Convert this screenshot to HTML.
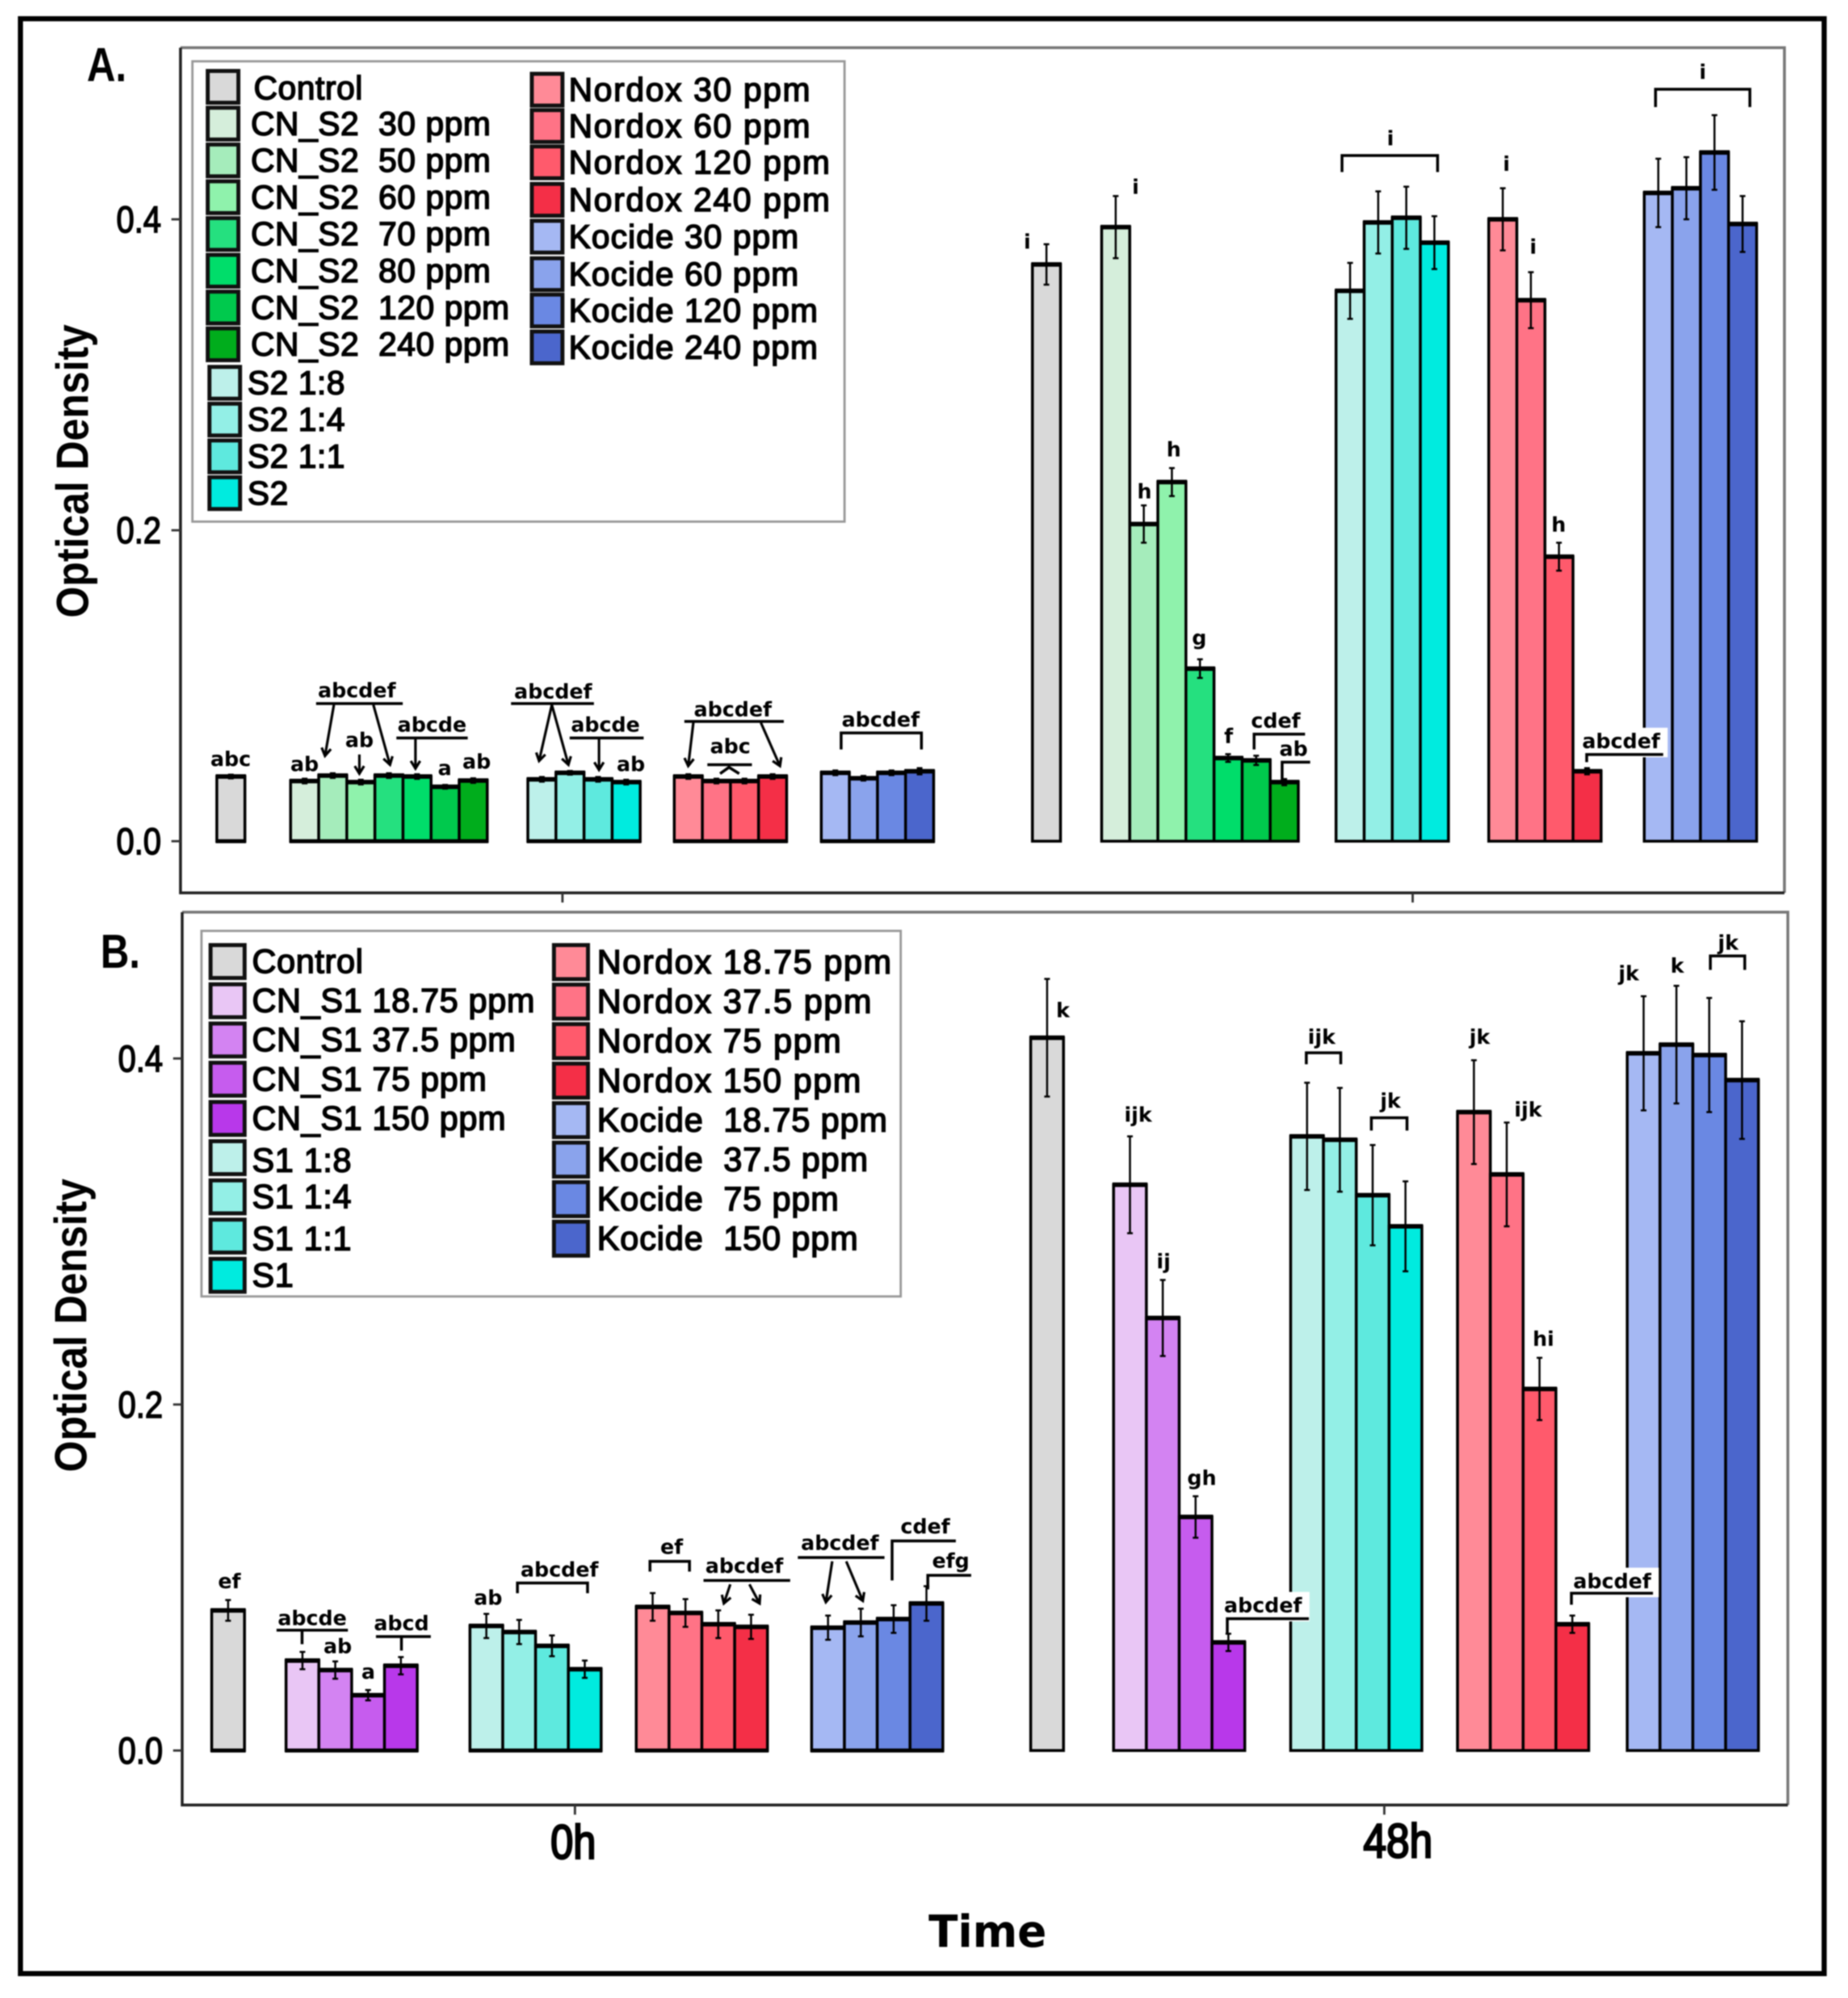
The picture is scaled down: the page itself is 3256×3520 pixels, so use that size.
<!DOCTYPE html>
<html lang="en">
<head>
<meta charset="utf-8">
<title>Optical Density over Time</title>
<style>
html,body{margin:0;padding:0;background:#fff;width:3256px;height:3520px;overflow:hidden}
svg{display:block;filter:blur(1px)}
text{font-family:"Liberation Sans",sans-serif;fill:#000;white-space:pre}
.leg{font-size:58px;stroke:#000;stroke-width:2.2px}
.legb{font-size:59px;stroke:#000;stroke-width:2.2px}
.note{font-family:"DejaVu Sans",sans-serif;font-weight:bold;font-size:36px;text-anchor:middle}
.tick{font-size:66px;stroke:#000;stroke-width:2.2px}
.ax{font-weight:bold}
</style>
</head>
<body>
<svg id="figure" xmlns="http://www.w3.org/2000/svg" width="3256" height="3520" viewBox="0 0 3256 3520">
  <rect x="0" y="0" width="3256" height="3520" fill="#ffffff"/>
  <rect x="36" y="33" width="3178" height="3444" fill="none" stroke="#000" stroke-width="9"/>

  <g>
    <path d="M318 84H3144V1573" fill="none" stroke="#777" stroke-width="5"/>
    <path d="M318 84V1573H3144" fill="none" stroke="#222" stroke-width="5"/>
  </g>
  <g>
    <path d="M321 1607H3150V3180" fill="none" stroke="#777" stroke-width="5"/>
    <path d="M321 1607V3180H3150" fill="none" stroke="#222" stroke-width="5"/>
  </g>

  <text x="153" y="143" font-size="84" font-weight="bold" textLength="70" lengthAdjust="spacingAndGlyphs">A.</text>
  <text x="177" y="1705" font-size="84" font-weight="bold" textLength="70" lengthAdjust="spacingAndGlyphs">B.</text>

  <text class="ax" transform="translate(155 830) rotate(-90)" text-anchor="middle" font-size="80" textLength="517" lengthAdjust="spacingAndGlyphs">Optical Density</text>
  <text class="ax" transform="translate(152 2335) rotate(-90)" text-anchor="middle" font-size="80" textLength="517" lengthAdjust="spacingAndGlyphs">Optical Density</text>

  <text x="1636" y="3430" font-size="78" font-weight="bold" style="font-family:'DejaVu Sans',sans-serif" textLength="208" lengthAdjust="spacingAndGlyphs">Time</text>

  <g id="legends"></g>
  <g id="plots"></g>
  <g id="notes"></g>
</svg>

<script>
// ---------- chart data ----------
const timeLabels = ['0h', '48h'];
const yTickValues = [0, 0.2, 0.4];
const yTickLabels = ['0.0', '0.2', '0.4'];

const groupSizes = [1, 4, 4, 4, 4];
const groupSizesA = [1, 7, 4, 4, 4];

const categoriesA = ['Control', 'CN_S2  30 ppm', 'CN_S2  50 ppm', 'CN_S2  60 ppm', 'CN_S2  70 ppm', 'CN_S2  80 ppm', 'CN_S2  120 ppm', 'CN_S2  240 ppm', 'S2 1:8', 'S2 1:4', 'S2 1:1', 'S2', 'Nordox 30 ppm', 'Nordox 60 ppm', 'Nordox 120 ppm', 'Nordox 240 ppm', 'Kocide 30 ppm', 'Kocide 60 ppm', 'Kocide 120 ppm', 'Kocide 240 ppm'];
const categoriesB = ['Control', 'CN_S1 18.75 ppm', 'CN_S1 37.5 ppm', 'CN_S1 75 ppm', 'CN_S1 150 ppm', 'S1 1:8', 'S1 1:4', 'S1 1:1', 'S1', 'Nordox 18.75 ppm', 'Nordox 37.5 ppm', 'Nordox 75 ppm', 'Nordox 150 ppm', 'Kocide  18.75 ppm', 'Kocide  37.5 ppm', 'Kocide  75 ppm', 'Kocide  150 ppm'];

const valuesA0h = [0.0416, 0.0387, 0.0422, 0.038, 0.0422, 0.0416, 0.035, 0.039, 0.0398, 0.044, 0.0398, 0.038, 0.0416, 0.0387, 0.0387, 0.0416, 0.044, 0.0405, 0.044, 0.045];
const errorsA0h = [0.0012, 0.0015, 0.0015, 0.0015, 0.0015, 0.0015, 0.0012, 0.0015, 0.0015, 0.0012, 0.0015, 0.0015, 0.0015, 0.0015, 0.0015, 0.0015, 0.0015, 0.0015, 0.0015, 0.002];
const valuesA48h = [0.371, 0.395, 0.204, 0.231, 0.111, 0.0535, 0.052, 0.038, 0.354, 0.398, 0.401, 0.385, 0.4, 0.348, 0.183, 0.045, 0.417, 0.42, 0.443, 0.397];
const errorsA48h = [0.013, 0.02, 0.012, 0.009, 0.006, 0.0025, 0.003, 0.002, 0.018, 0.02, 0.02, 0.017, 0.02, 0.018, 0.009, 0.002, 0.022, 0.02, 0.024, 0.018];

const valuesB0h = [0.081, 0.052, 0.0465, 0.032, 0.049, 0.072, 0.0685, 0.0605, 0.047, 0.083, 0.0795, 0.073, 0.0715, 0.071, 0.074, 0.076, 0.085];
const errorsB0h = [0.006, 0.005, 0.005, 0.003, 0.005, 0.007, 0.007, 0.006, 0.005, 0.008, 0.008, 0.008, 0.007, 0.007, 0.008, 0.008, 0.01];
const valuesB48h = [0.412, 0.327, 0.25, 0.135, 0.0625, 0.355, 0.353, 0.321, 0.303, 0.369, 0.333, 0.209, 0.073, 0.403, 0.408, 0.402, 0.3875];
const errorsB48h = [0.034, 0.028, 0.022, 0.012, 0.005, 0.031, 0.03, 0.029, 0.026, 0.03, 0.03, 0.018, 0.005, 0.033, 0.034, 0.033, 0.034];

const coloursA = ['#d9d9d9', '#d5eedb', '#a5ecbb', '#8ff2ac', '#25e07f', '#00dd6a', '#00c94d', '#00ad1c', '#bdf0ea', '#93efe6', '#5ee9de', '#00ebdf', '#ff8a97', '#ff7386', '#ff5a6c', '#f42f47', '#a5b8f3', '#8aa3ec', '#6a88e3', '#4b66cc'];
const coloursB = ['#d9d9d9', '#e9c6f5', '#d383f2', '#c65cee', '#b838ea', '#bdf0ea', '#93efe6', '#5ee9de', '#00ebdf', '#ff8a97', '#ff7386', '#ff5a6c', '#f42f47', '#a5b8f3', '#8aa3ec', '#6a88e3', '#4b66cc'];

// ---------- helpers ----------
const NS = 'http://www.w3.org/2000/svg';
const SCALE = 2.2455;
function mk(tag, parent, attrs) {
  const e = document.createElementNS(NS, tag);
  for (const k in attrs) e.setAttribute(k, attrs[k]);
  parent.appendChild(e);
  return e;
}

function yScale(panel, v) { return panel.y0 - v * panel.unit; }
function xScale(panel, time, group, i) { return panel.starts[time][group] + i * panel.bw; }

function panelA() {
  return { key: 'a', y0: 1482, unit: 2739, bw: 49.5, sizes: groupSizesA, colours: coloursA, names: categoriesA,
    values: [valuesA0h, valuesA48h], errors: [errorsA0h, errorsA48h],
    axisX: 318, axisBottom: 1573, timeTicks: [991, 2489], labelled: false,
    starts: [[382, 512, 930, 1188, 1447], [1819, 1941, 2354, 2623, 2897]] };
}
function panelB() {
  return { key: 'b', y0: 3084, unit: 3048, bw: 57.8, sizes: groupSizes, colours: coloursB, names: categoriesB,
    values: [valuesB0h, valuesB48h], errors: [errorsB0h, errorsB48h],
    axisX: 321, axisBottom: 3180, timeTicks: [1013, 2439], labelled: true,
    starts: [[373, 504, 828, 1121, 1430], [1816, 1962, 2274, 2568, 2867]] };
}

function drawPanel(p) {
  const root = document.getElementById('plots');
  const g = mk('g', root, {});
  
  

  yTickValues.forEach((v, i) => {
    const y = yScale(p, v);
    const t = mk('line', g, { x1: p.axisX - 16, x2: p.axisX, y1: y, y2: y, stroke: '#333', 'stroke-width': 4 });
    
    
    const l = mk('text', g, { x: p.axisX - 34, y: y + 23, class: 'tick', 'text-anchor': 'end', textLength: 79, lengthAdjust: 'spacingAndGlyphs' });
    l.textContent = yTickLabels[i];
    
    
  });

  timeLabels.forEach((name, t) => {
    const tx = p.timeTicks[t];
    const tk = mk('line', g, { x1: tx, x2: tx, y1: p.axisBottom, y2: p.axisBottom + 17, stroke: '#333', 'stroke-width': 4 });
    
    
    if (p.labelled) {
      const lb = mk('text', g, { x: t === 0 ? 970 : 2402, y: t === 0 ? 3274 : 3272, 'font-size': 84, textLength: t === 0 ? 80 : 122, lengthAdjust: 'spacingAndGlyphs', stroke: '#000', 'stroke-width': 3.5 });
      lb.textContent = name;
      
      
    }

    let idx = 0;
    p.sizes.forEach((size, gi) => {
      for (let i = 0; i < size; i++, idx++) {
        const v = p.values[t][idx];
        const x = xScale(p, t, gi, i);
        const yT = yScale(p, v);
        const yB = yScale(p, 0);
        const bar = mk('g', g, {});
        
        
        mk('rect', bar, { x: x, y: yT, width: p.bw, height: yB - yT, fill: p.colours[idx], stroke: '#000', 'stroke-width': 5 });
        mk('line', bar, { x1: x - 2, x2: x + p.bw + 2, y1: yT, y2: yT, stroke: '#000', 'stroke-width': 8 });
        mk('line', bar, { x1: x - 2, x2: x + p.bw + 2, y1: yB, y2: yB, stroke: '#000', 'stroke-width': t === 0 ? 7 : 5 });
      }
    });

    idx = 0;
    p.sizes.forEach((size, gi) => {
      for (let i = 0; i < size; i++, idx++) {
        const v = p.values[t][idx];
        const err = p.errors[t][idx];
        const cx = xScale(p, t, gi, i) + p.bw / 2;
        const up = yScale(p, v + err);
        const dn = yScale(p, v - err);
        const eb = mk('path', g, { d: 'M' + cx + ' ' + up + 'V' + dn + 'M' + (cx - 5) + ' ' + up + 'h10M' + (cx - 5) + ' ' + dn + 'h10', stroke: '#000', 'stroke-width': 3.5, fill: 'none' });
        
        
      }
    });
  });
}

function legendBox(key, x, y, w, h) {
  const b = mk('rect', document.getElementById('legends'), { x: x, y: y, width: w, height: h, fill: '#fff', stroke: '#999', 'stroke-width': 4 });
  
  
}

function legendEntry(label, colour, cls, sx, sw, sh, cy, tx, spacing, dy) {
  const parent = document.getElementById('legends');
  const g = mk('g', parent, {});
  
  
  mk('rect', g, { x: sx, y: cy - sh / 2, width: sw, height: sh, fill: colour, stroke: '#111', 'stroke-width': 7 });
  const t = mk('text', g, { x: tx, y: cy + 20 + dy, class: cls, style: 'letter-spacing:' + spacing + 'px' });
  t.textContent = label;
}

function drawLegendA() {
  legendBox('a', 339, 108, 1149, 811);
  const col2Offsets = [0, 64, 128, 194, 259, 325, 389, 454];
  categoriesA.forEach((label, i) => {
    if (i < 12) {
      const tx = i === 0 ? 447 : (i < 8 ? 442 : 436);
      legendEntry(label, coloursA[i], 'leg', i < 8 ? 366 : 369, 54, 56, 153 + i * 64.8 + (i >= 8 ? 3 : 0), tx, 0.8, i === 0 ? 2 : 0);
    } else {
      legendEntry(label, coloursA[i], 'leg', 937, 54, 56, 158 + col2Offsets[i - 12], 1002, i < 16 ? 2.4 : 1.5, 0);
    }
  });
}

function drawLegendB() {
  legendBox('b', 355, 1640, 1232, 644);
  categoriesB.forEach((label, i) => {
    if (i < 9) {
      legendEntry(label, coloursB[i], 'legb', 371, 60, 58, 1694 + i * 69.1, 444, 0.9, (i === 5 || i === 7) ? 5 : 0);
    } else {
      legendEntry(label, coloursB[i], 'legb', 976, 60, 60, 1695 + (i - 9) * 69.6, 1052, i < 13 ? 2.2 : 1.2, 0);
    }
  });
}

// ---------- significance annotations (coordinates on the figure, not data) ----------
function label(text, x, y, bg) {
  const parent = document.getElementById('notes');
  if (bg) {
    const r = mk('rect', parent, { x: x * SCALE - 82, y: y * SCALE - 36, width: 164, height: 52, fill: '#fff' });
    
    
  }
  const t = mk('text', parent, { x: x * SCALE, y: y * SCALE, class: 'note' });
  t.textContent = text;
  
  
}
function rule(pts) {
  const d = pts.map(p => (p[0] * SCALE).toFixed(1) + ',' + (p[1] * SCALE).toFixed(1)).join(' ');
  const l = mk('polyline', document.getElementById('notes'), { points: d, fill: 'none', stroke: '#000', 'stroke-width': 5 });
  
  
}
function arrow(x1, y1, x2, y2) {
  const parent = document.getElementById('notes');
  const a = Math.atan2(y2 - y1, x2 - x1);
  const h = 7;
  const hx1 = x2 - h * Math.cos(a - 0.55), hy1 = y2 - h * Math.sin(a - 0.55);
  const hx2 = x2 - h * Math.cos(a + 0.55), hy2 = y2 - h * Math.sin(a + 0.55);
  const s = v => (v * SCALE).toFixed(1);
  const p = mk('path', parent, { d: 'M' + s(x1) + ' ' + s(y1) + 'L' + s(x2) + ' ' + s(y2) + 'M' + s(hx1) + ' ' + s(hy1) + 'L' + s(x2) + ' ' + s(y2) + 'L' + s(hx2) + ' ' + s(hy2), fill: 'none', stroke: '#000', 'stroke-width': 4.5 });
  
  
}

function drawNotesA() {
  label('abc', 181, 601);
  label('abcdef', 280, 547); rule([[248, 552], [316, 552]]); arrow(262, 553, 255, 593); arrow(293, 553, 306, 600);
  label('ab', 239, 605);
  label('ab', 282, 586); arrow(282, 592, 282, 607);
  label('abcde', 339, 574); rule([[311, 579], [367, 579]]); arrow(326, 580, 326, 603);
  label('a', 349, 608);
  label('ab', 374, 603);
  label('abcdef', 434, 548); rule([[401, 552], [466, 552]]); arrow(433, 553, 423, 597); arrow(433, 553, 446, 600);
  label('abcde', 475, 574); rule([[447, 579], [505, 579]]); arrow(470, 580, 470, 604);
  label('ab', 495, 605);
  label('abcdef', 575, 562); rule([[537, 566], [615, 566]]); arrow(544, 567, 540, 601); arrow(597, 567, 612, 601);
  label('abc', 573, 591); rule([[555, 600], [590, 600]]); rule([[565, 607], [572, 602], [580, 607]]);
  label('abcdef', 691, 570); rule([[660, 588], [660, 575], [723, 575], [723, 588]]);
  label('i', 806, 195);
  label('i', 891, 152);
  label('h', 898, 391);
  label('h', 921, 358);
  label('g', 941, 506);
  label('f', 964, 583);
  label('cdef', 1001, 571); rule([[984, 588], [984, 576], [1024, 576]]);
  label('ab', 1015, 593); rule([[1006, 614], [1006, 598], [1028, 598]]);
  label('i', 1091, 114); rule([[1053, 135], [1053, 122], [1128, 122], [1128, 135]]);
  label('i', 1182, 134);
  label('i', 1203, 199);
  label('h', 1223, 417);
  label('abcdef', 1272, 587, true); rule([[1245, 598], [1245, 592], [1305, 592]]);
  label('i', 1336, 62); rule([[1299, 84], [1299, 70], [1373, 70], [1373, 84]]);
}

function drawNotesB() {
  label('ef', 180, 1246);
  label('abcde', 245, 1275); rule([[217, 1279], [273, 1279]]); rule([[237, 1280], [237, 1290]]);
  label('ab', 265, 1297);
  label('a', 289, 1317);
  label('abcd', 315, 1279); rule([[295, 1284], [338, 1284]]); rule([[315, 1284], [315, 1295]]);
  label('ab', 383, 1259);
  label('abcdef', 439, 1237); rule([[406, 1250], [406, 1242], [461, 1242], [461, 1250]]);
  label('ef', 527, 1219); rule([[510, 1233], [510, 1225], [541, 1225], [541, 1233]]);
  label('abcdef', 584, 1234); rule([[552, 1240], [620, 1240]]); arrow(573, 1243, 568, 1258); arrow(588, 1243, 596, 1258);
  label('abcdef', 659, 1216); rule([[626, 1222], [694, 1222]]); arrow(653, 1225, 648, 1257); arrow(664, 1225, 677, 1256);
  label('cdef', 726, 1203); rule([[700, 1240], [700, 1209], [750, 1209]]);
  label('efg', 746, 1230); rule([[728, 1247], [728, 1236], [762, 1236]]);
  label('k', 834, 798);
  label('ijk', 893, 880);
  label('ij', 913, 995);
  label('gh', 943, 1165);
  label('abcdef', 991, 1265, true); rule([[963, 1281], [963, 1270], [1027, 1270]]);
  label('ijk', 1037, 819); rule([[1025, 835], [1025, 826], [1052, 826], [1052, 835]]);
  label('jk', 1091, 869); rule([[1076, 887], [1076, 877], [1104, 877], [1104, 887]]);
  label('jk', 1161, 819);
  label('ijk', 1199, 876);
  label('hi', 1211, 1056);
  label('abcdef', 1265, 1246, true); rule([[1233, 1259], [1233, 1250], [1297, 1250]]);
  label('jk', 1278, 769);
  label('k', 1316, 763);
  label('jk', 1356, 745); rule([[1342, 761], [1342, 750], [1369, 750], [1369, 761]]);
}

drawLegendA();
drawLegendB();
drawPanel(panelA());
drawPanel(panelB());
drawNotesA();
drawNotesB();
</script>
</body>
</html>
